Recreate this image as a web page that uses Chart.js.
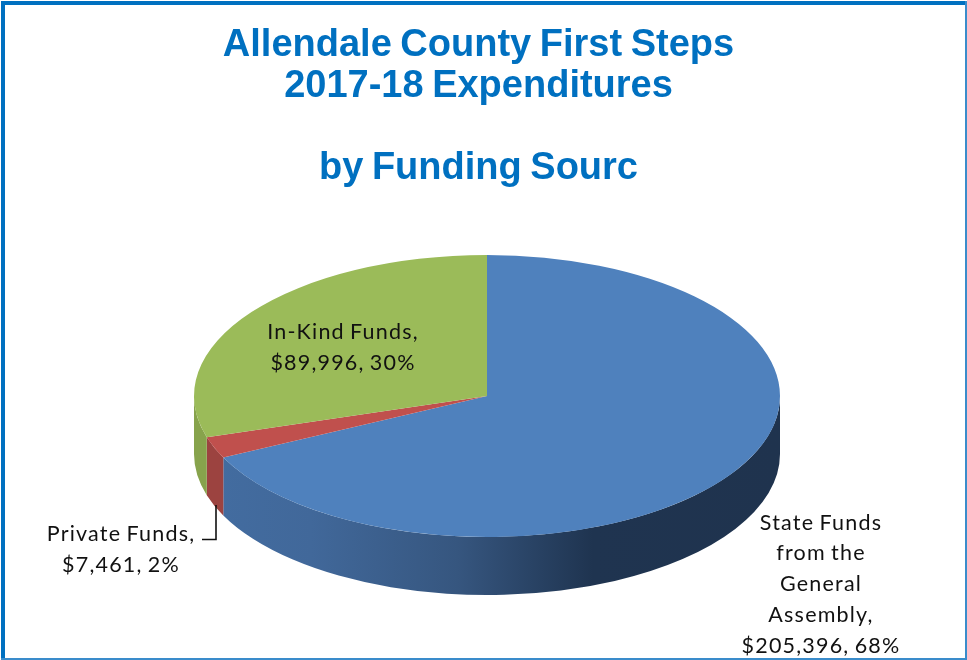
<!DOCTYPE html>
<html>
<head>
<meta charset="utf-8">
<style>
html,body{margin:0;padding:0;background:#fff;overflow:hidden}
#wrap{width:967px;height:660px;position:relative}
canvas{display:block}
</style>
<script src="https://cdn.jsdelivr.net/npm/chart.js@4"></script>
</head>
<body>
<div id="wrap"><canvas id="c" width="967" height="660"></canvas></div>
<script>
const titleLines = ["Allendale County First Steps", "2017-18 Expenditures", "", "by Funding Sourc"];
const categories = ["State Funds from the General Assembly", "Private Funds", "In-Kind Funds"];
const values = [205396, 7461, 89996];
const percents = [68, 2, 30];
const labelTextLines = [["State Funds", "from the", "General", "Assembly,"], ["Private Funds,"], ["In-Kind Funds,"]];
const topColors = ["#4f81bd", "#c0504d", "#9bbb59"];

const PIE = {cx: 487, cy: 396, rx: 293, ry: 141, depth: 58};
const LABEL_POS = [
  {x: 821, ys: [523, 553, 584, 615, 646]},
  {x: 121, ys: [534, 565]},
  {x: 343, ys: [332, 363]}
];

function labelLines(i){
  return labelTextLines[i].concat(["$" + values[i].toLocaleString("en-US") + ", " + percents[i] + "%"]);
}

const pie3d = {
  id: "pie3d",
  beforeDraw(chart){
    chart.ctx.wordSpacing = "-2px";
  },
  beforeDatasetsDraw(chart){
    const ctx = chart.ctx, arcs = chart.getDatasetMeta(0).data;
    const wallFill = [null, "#9c4340", "#87a34c"];
    const g = ctx.createLinearGradient(PIE.cx - PIE.rx, 0, PIE.cx + PIE.rx, 0);
    g.addColorStop(0, "#436da1");
    g.addColorStop(0.2, "#41689a");
    g.addColorStop(0.45, "#36567f");
    g.addColorStop(0.68, "#1f3450");
    g.addColorStop(1, "#1f334e");
    wallFill[0] = g;
    arcs.forEach((a, i) => {
      const p = a.getProps(["startAngle", "endAngle"], true);
      const from = Math.max(p.startAngle, 0), to = Math.min(p.endAngle, Math.PI);
      if (to <= from) return;
      ctx.beginPath();
      ctx.ellipse(PIE.cx, PIE.cy, PIE.rx, PIE.ry, 0, from, to);
      ctx.ellipse(PIE.cx, PIE.cy + PIE.depth, PIE.rx, PIE.ry, 0, to, from, true);
      ctx.closePath();
      ctx.fillStyle = wallFill[i];
      ctx.fill();
    });
    const a0 = arcs[0].getProps(["x", "y", "outerRadius"], true);
    ctx.save();
    ctx.translate(PIE.cx, PIE.cy);
    ctx.scale(PIE.rx / a0.outerRadius, PIE.ry / a0.outerRadius);
    ctx.translate(-a0.x, -a0.y);
  },
  afterDatasetsDraw(chart){
    chart.ctx.restore();
  },
  afterDraw(chart){
    const ctx = chart.ctx;
    ctx.save();
    // frame
    ctx.fillStyle = "#0070c0";
    ctx.fillRect(1, 1, 965, 4);
    ctx.fillRect(1, 1, 4, 659);
    ctx.fillStyle = "#3a8ccb";
    ctx.fillRect(965, 1, 2, 659);
    ctx.fillRect(1, 658, 966, 2);
    // leader line of the small slice
    ctx.strokeStyle = "#111";
    ctx.lineWidth = 1.6;
    ctx.beginPath();
    ctx.moveTo(216, 505);
    ctx.lineTo(216, 539.5);
    ctx.lineTo(202, 539.5);
    ctx.stroke();
    // data labels
    ctx.font = "21.5px Lato";
    ctx.letterSpacing = "1.2px";
    ctx.wordSpacing = "-1.5px";
    ctx.fillStyle = "#111";
    ctx.textAlign = "center";
    ctx.textBaseline = "middle";
    categories.forEach((_, i) => {
      labelLines(i).forEach((t, k) => {
        ctx.fillText(t, LABEL_POS[i].x, LABEL_POS[i].ys[k]);
      });
    });
    ctx.restore();
  }
};

new Chart(document.getElementById("c"), {
  type: "pie",
  data: {
    labels: categories,
    datasets: [{data: values, backgroundColor: topColors, borderWidth: 0}]
  },
  options: {
    responsive: false,
    animation: false,
    layout: {padding: {right: 10}},
    plugins: {
      legend: {display: false},
      tooltip: {enabled: false},
      title: {
        display: true,
        text: titleLines,
        color: "#0070c0",
        font: {family: "Liberation Sans", size: 38, weight: "bold", lineHeight: 1.08},
        padding: {top: 25, bottom: 10}
      }
    }
  },
  plugins: [pie3d]
});
</script>
</body>
</html>
